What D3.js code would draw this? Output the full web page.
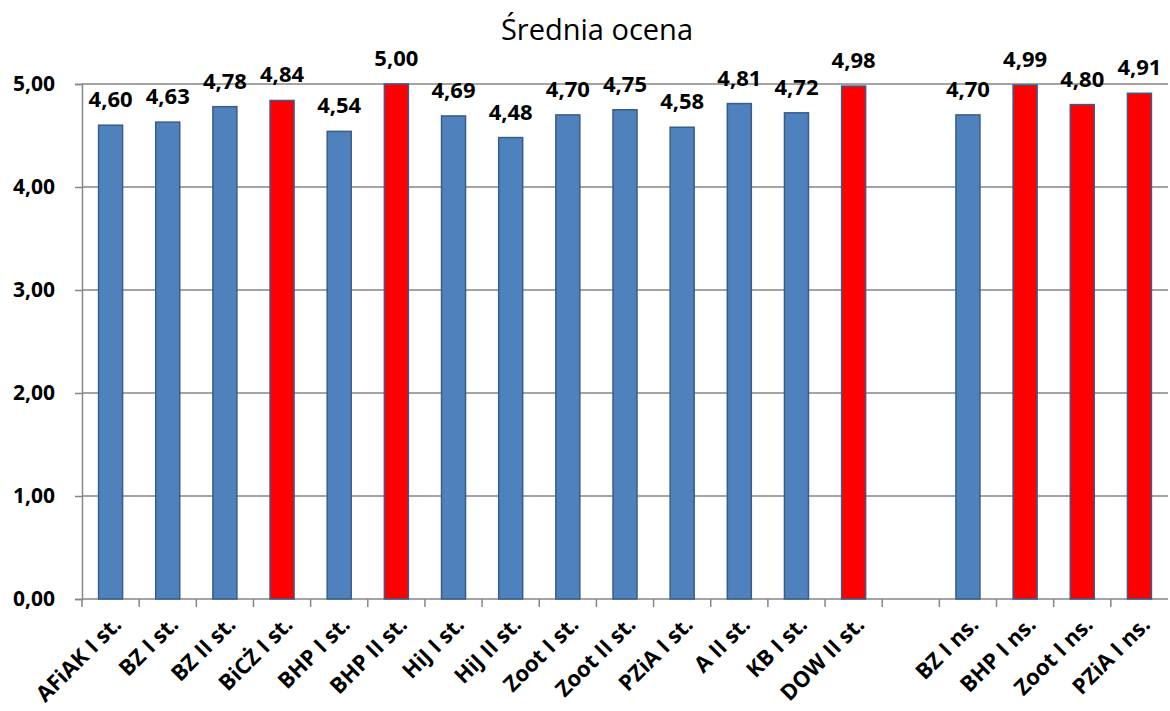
<!DOCTYPE html>
<html>
<head>
<meta charset="utf-8">
<script src="https://cdn.jsdelivr.net/npm/d3@7"></script>
<style>
  body { margin: 0; background: #fff; }
  svg { display: block; }
</style>
</head>
<body>
<script>
var categories = ["AFiAK I st.", "BZ I st.", "BZ II st.", "BiCŻ I st.", "BHP I st.", "BHP II st.",
    "HiJ I st.", "HiJ II st.", "Zoot I st.", "Zoot II st.", "PZiA I st.", "A II st.", "KB I st.",
    "DOW II st.", "", "BZ I ns.", "BHP I ns.", "Zoot I ns.", "PZiA I ns."];
var values = [4.60, 4.63, 4.78, 4.84, 4.54, 5.00, 4.69, 4.48, 4.70, 4.75, 4.58, 4.81, 4.72,
    4.98, null, 4.70, 4.99, 4.80, 4.91];
var highlighted = [false, false, false, true, false, true, false, false, false, false, false, false, false,
    true, false, false, true, true, true];
var yTicks = [0, 1, 2, 3, 4, 5];

var width = 1170, height = 711;
var margin = {left: 82, right: 2, top: 84, bottom: 112};
var font = "'Open Sans', Lato, sans-serif";

var svg = d3.select('body').append('svg')
    .attr('width', width)
    .attr('height', height);

var x = d3.scaleBand()
    .domain(d3.range(categories.length))
    .range([margin.left, width - margin.right])
    .paddingInner(0.58)
    .paddingOuter(0.29);

var y = d3.scaleLinear()
    .domain([0, 5])
    .range([height - margin.bottom, margin.top]);

var fmt = function (v) { return d3.format('.2f')(v).replace('.', ','); };

// title
svg.append('text')
    .attr('x', 597)
    .attr('y', 40)
    .attr('text-anchor', 'middle')
    .style('font-family', font)
    .style('font-size', '29px')
    .text('Średnia ocena');

// gridlines
svg.append('g')
    .selectAll('line')
    .data(yTicks.filter(function (d) { return d > 0; }))
    .enter()
    .append('line')
    .attr('x1', margin.left)
    .attr('x2', width - margin.right)
    .attr('y1', function (d) { return y(d); })
    .attr('y2', function (d) { return y(d); })
    .attr('stroke', '#868686')
    .attr('stroke-width', 1.5);

// y axis
var yAxis = svg.append('g')
    .attr('transform', 'translate(' + margin.left + ',0)')
    .call(d3.axisLeft(y).tickValues(yTicks).tickSize(7).tickPadding(20).tickFormat(fmt));
yAxis.select('.domain').attr('stroke', '#868686').attr('stroke-width', 1.5);
yAxis.selectAll('.tick line').attr('stroke', '#868686').attr('stroke-width', 1.5);
yAxis.selectAll('.tick text')
    .style('font-family', font)
    .style('font-size', '21px')
    .style('font-weight', 'bold')
    .attr('fill', '#000');

// x axis baseline and ticks at category boundaries
var step = x.step();
var x0 = margin.left;
svg.append('line')
    .attr('x1', margin.left)
    .attr('x2', width - margin.right)
    .attr('y1', y(0))
    .attr('y2', y(0))
    .attr('stroke', '#868686')
    .attr('stroke-width', 1.5);

svg.append('g')
    .selectAll('line')
    .data(d3.range(categories.length))
    .enter()
    .append('line')
    .attr('x1', function (d) { return x0 + d * step; })
    .attr('x2', function (d) { return x0 + d * step; })
    .attr('y1', y(0))
    .attr('y2', y(0) + 8)
    .attr('stroke', '#868686')
    .attr('stroke-width', 1.5);

// bars
var idx = d3.range(categories.length).filter(function (i) { return values[i] !== null; });

svg.append('g')
    .selectAll('rect')
    .data(idx)
    .enter()
    .append('rect')
    .attr('x', function (i) { return x(i); })
    .attr('y', function (i) { return y(values[i]); })
    .attr('width', x.bandwidth())
    .attr('height', function (i) { return y(0) - y(values[i]); })
    .attr('fill', function (i) { return highlighted[i] ? '#FF0000' : '#4F81BD'; })
    .attr('stroke', '#385D8A')
    .attr('stroke-width', 1.5);

// value labels
svg.append('g')
    .selectAll('text')
    .data(idx)
    .enter()
    .append('text')
    .attr('x', function (i) { return x(i) + x.bandwidth() / 2; })
    .attr('y', function (i) { return y(values[i]) - 18; })
    .attr('text-anchor', 'middle')
    .style('font-family', font)
    .style('font-size', '22px')
    .style('font-weight', 'bold')
    .text(function (i) { return fmt(values[i]); });

// category labels
svg.append('g')
    .selectAll('text')
    .data(d3.range(categories.length))
    .enter()
    .append('text')
    .attr('transform', function (i) {
        return 'translate(' + (x(i) + x.bandwidth() / 2 + 12) + ',' + (y(0) + 27) + ') rotate(-45)';
    })
    .attr('text-anchor', 'end')
    .style('font-family', font)
    .style('font-size', '22px')
    .style('font-weight', 'bold')
    .text(function (i) { return categories[i]; });
</script>
</body>
</html>
